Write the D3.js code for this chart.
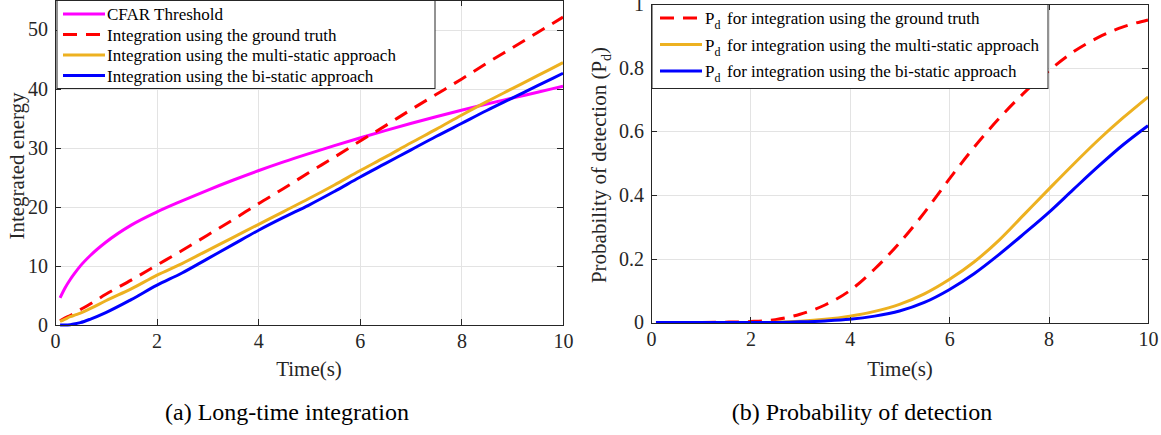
<!DOCTYPE html>
<html>
<head>
<meta charset="utf-8">
<script src="https://cdn.jsdelivr.net/npm/d3@7"></script>
<style>
  body { margin: 0; padding: 0; background: #fff; }
  svg { font-family: "Liberation Serif", "Times New Roman", serif; }
  .axis path, .axis line { stroke: #262626; stroke-width: 1; shape-rendering: crispEdges; }
  .axis text { fill: #262626; font-size: 20px; font-family: "Liberation Serif", serif; }
  .grid line { stroke: #e3e3e3; stroke-width: 1; shape-rendering: crispEdges; }
  .grid path { display: none; }
  .curve { fill: none; stroke-width: 3; }
</style>
</head>
<body>
<script>
// ---- data ----
// (a) long-time integration
var timeA = [0.1, 0.2, 0.3, 0.4, 0.5, 0.7, 1, 1.5, 2, 2.5, 3, 3.5, 4, 4.5, 5, 5.5, 6, 6.5, 7, 7.5, 8, 8.5, 9, 9.5, 10];
var cfar = [4.6, 6.3, 7.7, 8.9, 10.0, 11.8, 14.0, 16.9, 19.1, 21.0, 22.8, 24.5, 26.1, 27.6, 29.0, 30.35, 31.65, 32.9, 34.1, 35.25, 36.35, 37.4, 38.4, 39.4, 40.4];
var groundTruth = [0.7, 1.2, 1.6, 2.1, 2.6, 3.6, 5.2, 7.6, 10.1, 12.6, 15.2, 17.8, 20.5, 23.1, 25.8, 28.4, 31.1, 33.7, 36.4, 39.0, 41.6, 44.3, 46.9, 49.5, 52.1];
var multiStatic = [0.6, 1.0, 1.4, 1.7, 2.0, 2.8, 4.1, 6.1, 8.4, 10.4, 12.6, 14.8, 17.0, 19.2, 21.4, 23.7, 26.1, 28.4, 30.8, 33.1, 35.5, 37.8, 40.0, 42.2, 44.4];
var biStatic = [0.0, 0.0, 0.05, 0.2, 0.4, 1.0, 2.1, 4.3, 6.7, 8.8, 11.2, 13.6, 16.0, 18.2, 20.3, 22.6, 25.0, 27.3, 29.6, 31.9, 34.1, 36.3, 38.4, 40.5, 42.6];

// (b) probability of detection
var timeB = [0.1, 1, 1.5, 2, 2.5, 3, 3.5, 4, 4.5, 5, 5.5, 6, 6.5, 7, 7.5, 8, 8.5, 9, 9.5, 10];
var pdGround = [0, 0, 0.001, 0.003, 0.009, 0.026, 0.055, 0.1, 0.168, 0.25, 0.345, 0.45, 0.55, 0.64, 0.72, 0.79, 0.85, 0.895, 0.928, 0.95];
var pdMulti = [0, 0, 0, 0, 0.001, 0.004, 0.01, 0.02, 0.035, 0.057, 0.09, 0.135, 0.19, 0.258, 0.338, 0.418, 0.497, 0.573, 0.643, 0.708];
var pdBi = [0, 0, 0, 0, 0, 0.002, 0.005, 0.01, 0.02, 0.036, 0.063, 0.103, 0.153, 0.213, 0.278, 0.345, 0.418, 0.49, 0.558, 0.618];

var xTicks = [0, 2, 4, 6, 8, 10];
var yTicksA = [0, 10, 20, 30, 40, 50];
var yTicksB = [0, 0.2, 0.4, 0.6, 0.8, 1];

var legendA = ["CFAR Threshold", "Integration using the ground truth",
               "Integration using the multi-static approach", "Integration using the bi-static approach"];
var legendB = ["for integration using the ground truth",
               "for integration using the multi-static approach", "for integration using the bi-static approach"];

var colors = { cfar: "#ff00ff", ground: "#ff0000", multi: "#edb120", bi: "#0000ff" };

var svg = d3.select("body").append("svg")
    .attr("width", 1161)
    .attr("height", 435);

function panel(left, top, w, h, yMax, yTicks, yFormat) {
  var g = svg.append("g").attr("transform", "translate(" + left + "," + top + ")");
  var x = d3.scaleLinear().domain([0, 10]).range([0, w]);
  var y = d3.scaleLinear().domain([0, yMax]).range([h, 0]);

  // grid
  g.append("g").attr("class", "grid")
      .attr("transform", "translate(0," + h + ")")
      .call(d3.axisBottom(x).tickValues(xTicks).tickSize(-h).tickFormat(""));
  g.append("g").attr("class", "grid")
      .call(d3.axisLeft(y).tickValues(yTicks).tickSize(-w).tickFormat(""));

  return { g: g, x: x, y: y, w: w, h: h, yTicks: yTicks, yFormat: yFormat };
}

function frame(p) {
  var g = p.g;
  g.append("g").attr("class", "axis")
      .attr("transform", "translate(0," + p.h + ")")
      .call(d3.axisBottom(p.x).tickValues(xTicks).tickSize(-6).tickSizeOuter(0).tickPadding(9));
  g.append("g").attr("class", "axis")
      .call(d3.axisTop(p.x).tickValues(xTicks).tickSize(-6).tickSizeOuter(0).tickFormat(""));
  g.append("g").attr("class", "axis")
      .call(d3.axisLeft(p.y).tickValues(p.yTicks).tickSize(-6).tickSizeOuter(0).tickPadding(7).tickFormat(p.yFormat));
  g.append("g").attr("class", "axis")
      .attr("transform", "translate(" + p.w + ",0)")
      .call(d3.axisRight(p.y).tickValues(p.yTicks).tickSize(-6).tickSizeOuter(0).tickFormat(""));
}

function curve(p, xs, ys, color, dashed) {
  var line = d3.line()
      .x(function (d, i) { return p.x(xs[i]); })
      .y(function (d) { return p.y(d); })
      .curve(d3.curveMonotoneX);
  var path = p.g.append("path")
      .attr("class", "curve")
      .attr("stroke", color)
      .attr("d", line(ys));
  if (dashed) path.attr("stroke-dasharray", "14,9");
}

// ---- panel (a) ----
var pa = panel(55, 0, 508, 325, 55, yTicksA, d3.format("d"));
curve(pa, timeA, cfar, colors.cfar, false);
curve(pa, timeA, groundTruth, colors.ground, true);
curve(pa, timeA, multiStatic, colors.multi, false);
curve(pa, timeA, biStatic, colors.bi, false);
frame(pa);

// legend (a)
var la = pa.g.append("g").attr("transform", "translate(2,0.5)");
la.append("rect").attr("width", 378).attr("height", 88)
    .attr("fill", "#fff").attr("stroke", "#262626").attr("stroke-width", 1);
var keysA = [colors.cfar, colors.ground, colors.multi, colors.bi];
legendA.forEach(function (t, i) {
  var yy = 13.5 + i * 20.5;
  var ln = la.append("line").attr("x1", 6).attr("x2", 48).attr("y1", yy).attr("y2", yy)
      .attr("stroke", keysA[i]).attr("stroke-width", 3);
  if (i === 1) ln.attr("stroke-dasharray", "14,9");
  la.append("text").attr("x", 50).attr("y", yy + 6).attr("font-size", 17)
      .attr("fill", "#000").text(t);
});

// axis labels (a)
svg.append("text").attr("x", 309).attr("y", 376).attr("text-anchor", "middle")
    .attr("font-size", 21).attr("fill", "#262626").text("Time(s)");
svg.append("text").attr("transform", "translate(24,166) rotate(-90)").attr("text-anchor", "middle")
    .attr("font-size", 21).attr("fill", "#262626").text("Integrated energy");
svg.append("text").attr("x", 287).attr("y", 420).attr("text-anchor", "middle")
    .attr("font-size", 24).attr("fill", "#000").text("(a) Long-time integration");

// ---- panel (b) ----
var pb = panel(651, 4, 497, 318.5, 1, yTicksB, function (d) { return d === 0 || d === 1 ? d3.format("d")(d) : d3.format(".1f")(d); });
curve(pb, timeB, pdGround, colors.ground, true);
curve(pb, timeB, pdMulti, colors.multi, false);
curve(pb, timeB, pdBi, colors.bi, false);
frame(pb);

// legend (b)
var lb = pb.g.append("g").attr("transform", "translate(1,0.5)");
lb.append("rect").attr("width", 396).attr("height", 84)
    .attr("fill", "#fff").attr("stroke", "#262626").attr("stroke-width", 1);
var keysB = [colors.ground, colors.multi, colors.bi];
legendB.forEach(function (t, i) {
  var yy = 13.5 + i * 26.5;
  var ln = lb.append("line").attr("x1", 8).attr("x2", 50).attr("y1", yy).attr("y2", yy)
      .attr("stroke", keysB[i]).attr("stroke-width", 3);
  if (i === 0) ln.attr("stroke-dasharray", "14,9");
  var tx = lb.append("text").attr("x", 53).attr("y", yy + 6).attr("font-size", 17).attr("fill", "#000");
  tx.append("tspan").text("P");
  tx.append("tspan").attr("font-size", 12).attr("dy", 5).text("d");
  lb.append("text").attr("x", 75).attr("y", yy + 6).attr("font-size", 17).attr("fill", "#000").text(t);
});

// axis labels (b)
svg.append("text").attr("x", 900).attr("y", 376).attr("text-anchor", "middle")
    .attr("font-size", 21).attr("fill", "#262626").text("Time(s)");
var yl = svg.append("text").attr("transform", "translate(606,165) rotate(-90)").attr("text-anchor", "middle")
    .attr("font-size", 21).attr("fill", "#262626");
yl.append("tspan").text("Probability of detection (P");
yl.append("tspan").attr("font-size", 14).attr("dy", 5).text("d");
yl.append("tspan").attr("dy", -5).text(")");
svg.append("text").attr("x", 862).attr("y", 420).attr("text-anchor", "middle")
    .attr("font-size", 24).attr("fill", "#000").text("(b) Probability of detection");
</script>
</body>
</html>
